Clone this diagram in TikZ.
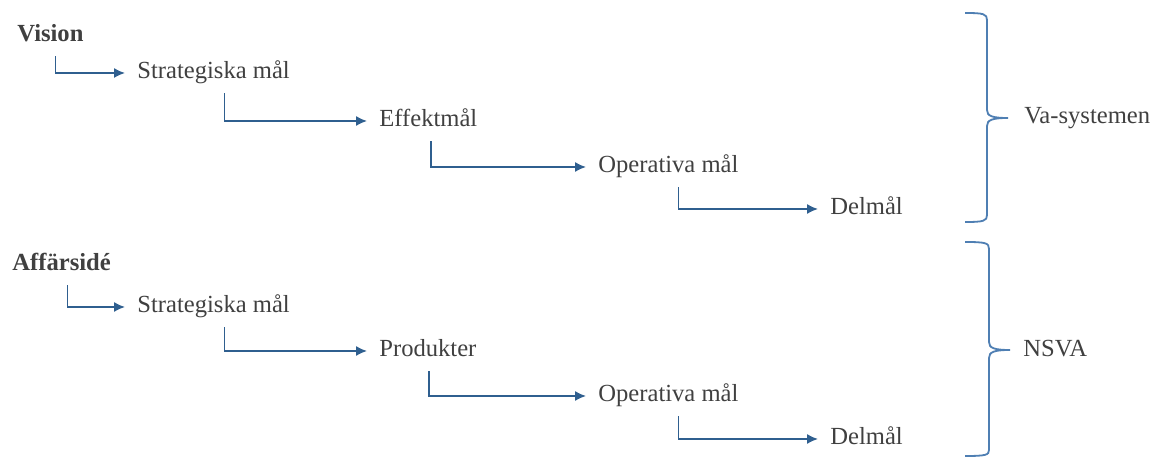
\documentclass[tikz,border=0pt]{standalone}
\usepackage{fontspec}
\setmainfont{Liberation Serif}
\usetikzlibrary{arrows.meta}

\definecolor{linjeblue}{HTML}{2F5F8F}
\definecolor{klammerblue}{HTML}{4F7FB3}
\definecolor{textgray}{HTML}{404040}

\begin{document}
\begin{tikzpicture}[x=0.5pt,y=-0.5pt,
  mal/.style={anchor=west,text=textgray,font=\fontsize{12.3}{14}\selectfont,
    text height=8.5pt,text depth=2.5pt,inner xsep=6pt,inner ysep=4.5pt},
  rot/.style={mal,font=\fontsize{12.3}{14}\selectfont\bfseries},
  pil/.style={linjeblue,line width=0.75pt,-{Latex[length=5.5pt,width=5pt]}},
  klammer/.style={klammerblue,line width=0.9pt}]
\useasboundingbox (0,0) rectangle (1158,458);

% Vision
\node[rot] (vis) at (5,36) {Vision};
\node[mal] (sm1) at (125,73) {Strategiska mål};
\node[mal] (em) at (367,121) {Effektmål};
\node[mal] (om1) at (586,167) {Operativa mål};
\node[mal] (dm1) at (818,209) {Delmål};

\draw[pil] ([xshift=2.5pt]vis.south) |- (sm1.west);
\draw[pil] ([xshift=5.5pt]sm1.south) |- (em.west);
\draw[pil] ([xshift=1.25pt]em.south) |- (om1.west);
\draw[pil] ([xshift=5pt]om1.south) |- (dm1.west);

% Affarsidee
\node[rot] (aff) at (0,265) {Affärsidé};
\node[mal] (sm2) at (125,307) {Strategiska mål};
\node[mal] (pr) at (367,351) {Produkter};
\node[mal] (om2) at (586,396) {Operativa mål};
\node[mal] (dm2) at (818,439) {Delmål};

\draw[pil] ([xshift=3pt]aff.south) |- (sm2.west);
\draw[pil] ([xshift=5.5pt]sm2.south) |- (pr.west);
\draw[pil] ([xshift=0.5pt]pr.south) |- (om2.west);
\draw[pil] ([xshift=5pt]om2.south) |- (dm2.west);

% klamrar
\draw[klammer] (965,13) .. controls (984,13) and (987,14) .. (987,20) -- (987,110)
  .. controls (987,116) and (992,118) .. (1008,118)
  .. controls (992,118) and (987,120) .. (987,126) -- (987,215)
  .. controls (987,221) and (984,222) .. (965,222);
\node[mal] (va) at (1012,118) {Va-systemen};

\draw[klammer] (965,242) .. controls (986,242) and (989,243) .. (989,249) -- (989,342)
  .. controls (989,348) and (994,350) .. (1010,350)
  .. controls (994,350) and (989,352) .. (989,358) -- (989,450)
  .. controls (989,455) and (986,456) .. (965,456);
\node[mal] (nsva) at (1011,351) {NSVA};

\end{tikzpicture}
\end{document}
